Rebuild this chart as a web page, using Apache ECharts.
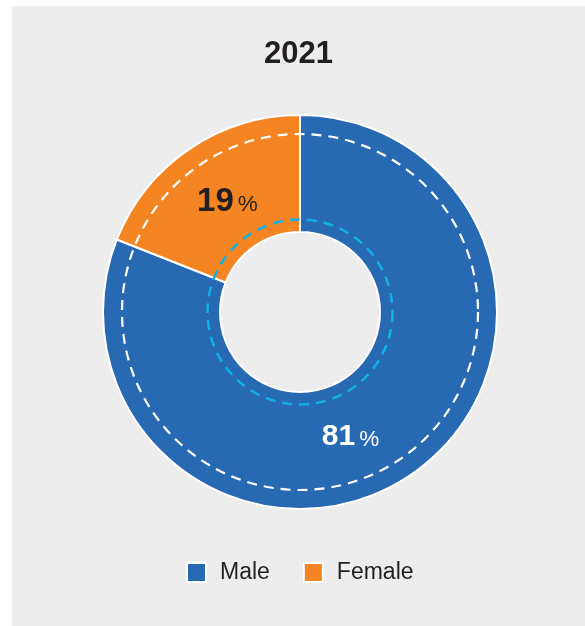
<!DOCTYPE html>
<html>
<head>
<meta charset="utf-8">
<style>
  html, body { margin: 0; padding: 0; background: #ffffff; }
  #chart { width: 585px; height: 626px; }
</style>
<script src="https://cdn.jsdelivr.net/npm/echarts@6/dist/echarts.min.js"></script>
</head>
<body>
<div id="chart"></div>
<script>
// Gender split for 2021
const chartTitle = '2021';
const categories = ['Male', 'Female'];
const shares = [81, 19];
const sliceColors = ['#2869b3', '#f58522'];
const labelColors = ['#ffffff', '#231f20'];

const cx = 300, cy = 312;
const FONT = '"Liberation Sans", Arial, Helvetica, sans-serif';

const labelSizes = [30, 33];
const labelOffsets = [[-29, 8], [7, 7]];

const pieData = categories.map((name, i) => ({
  name: name,
  value: shares[i],
  itemStyle: { color: sliceColors[i] },
  label: {
    offset: labelOffsets[i],
    rich: {
      num: { fontFamily: FONT, fontSize: labelSizes[i], fontWeight: 'bold', color: labelColors[i] },
      pct: { fontFamily: FONT, fontSize: 22.5, color: labelColors[i], padding: [6, 0, 0, 4] }
    }
  }
}));

const chart = echarts.init(document.getElementById('chart'), null, { renderer: 'canvas' });
chart.setOption({
  backgroundColor: '#ffffff',
  animation: false,
  title: {
    text: chartTitle,
    left: 259,
    top: 34,
    textStyle: { fontFamily: FONT, fontSize: 31, fontWeight: 'bold', color: '#231f20' }
  },
  legend: {
    data: categories,
    left: 181,
    top: 556,
    itemWidth: 19,
    itemHeight: 19,
    itemGap: 33,
    icon: 'rect',
    itemStyle: { borderColor: '#ffffff', borderWidth: 2 },
    textStyle: { fontFamily: FONT, fontSize: 23, color: '#231f20', padding: [0, 0, 0, 9] }
  },
  graphic: [
    {
      type: 'rect', z: -10, silent: true,
      shape: { x: 12, y: 6, width: 573, height: 620 },
      style: { fill: '#ededed' }
    },
    {
      type: 'circle', z: 100, silent: true,
      shape: { cx: cx, cy: cy, r: 178 },
      style: { fill: null, stroke: '#ffffff', lineWidth: 2.2, lineDash: [10, 7] }
    },
    {
      type: 'circle', z: 100, silent: true,
      shape: { cx: cx, cy: cy, r: 92.5 },
      style: { fill: null, stroke: '#10b0e8', lineWidth: 2.5, lineDash: [10, 7] }
    }
  ],
  series: [{
    type: 'pie',
    center: [cx, cy],
    radius: [80, 197],
    startAngle: 90,
    clockwise: true,
    silent: true,
    itemStyle: { borderColor: '#ffffff', borderWidth: 2 },
    label: {
      show: true,
      position: 'inside',
      formatter: p => '{num|' + p.value + '}{pct|%}'
    },
    labelLine: { show: false },
    data: pieData
  }]
});
</script>
</body>
</html>
